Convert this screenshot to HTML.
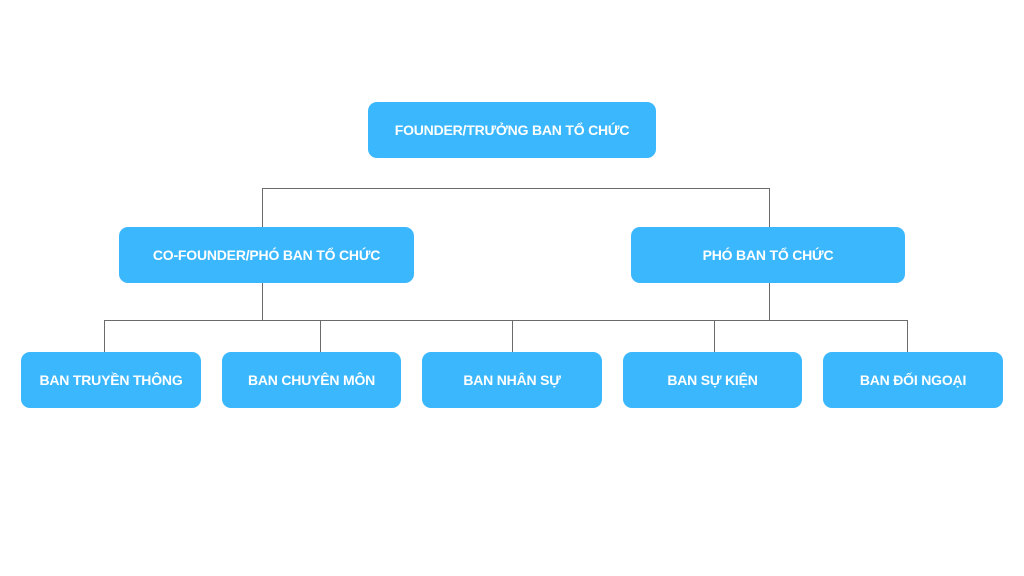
<!DOCTYPE html>
<html><head><meta charset="utf-8"><style>
body{margin:0;width:1024px;height:576px;background:#fff;position:relative;overflow:hidden;font-family:"Liberation Sans","DejaVu Sans",sans-serif}
.b{position:absolute;background:#3bb7fe;border-radius:9px;color:#fff;font-size:14px;font-weight:bold;display:flex;align-items:center;justify-content:center;white-space:nowrap;letter-spacing:-0.2px}
svg{position:absolute;left:0;top:0}
</style></head><body>
<svg width="1024" height="576">
<g stroke="#6b6b6b" stroke-width="1" fill="none">
<path d="M262.5 227V188.5H769.5V227"/>
<path d="M262.5 283V320.5M769.5 283V320.5M104.5 320.5H907.5"/>
<path d="M104.5 320V352M320.5 320V352M512.5 320V352M714.5 320V352M907.5 320V352"/>
</g>
</svg>
<div class="b" style="left:368px;top:102px;width:288px;height:56px">FOUNDER/TRƯỞNG BAN TỔ CHỨC</div>
<div class="b" style="left:119px;top:227px;width:295px;height:56px">CO-FOUNDER/PHÓ BAN TỔ CHỨC</div>
<div class="b" style="left:631px;top:227px;width:274px;height:56px">PHÓ BAN TỔ CHỨC</div>
<div class="b" style="left:21px;top:352px;width:180px;height:56px">BAN TRUYỀN THÔNG</div>
<div class="b" style="left:222px;top:352px;width:179px;height:56px">BAN CHUYÊN MÔN</div>
<div class="b" style="left:422px;top:352px;width:180px;height:56px">BAN NHÂN SỰ</div>
<div class="b" style="left:623px;top:352px;width:179px;height:56px">BAN SỰ KIỆN</div>
<div class="b" style="left:823px;top:352px;width:180px;height:56px">BAN ĐỐI NGOẠI</div>
</body></html>
